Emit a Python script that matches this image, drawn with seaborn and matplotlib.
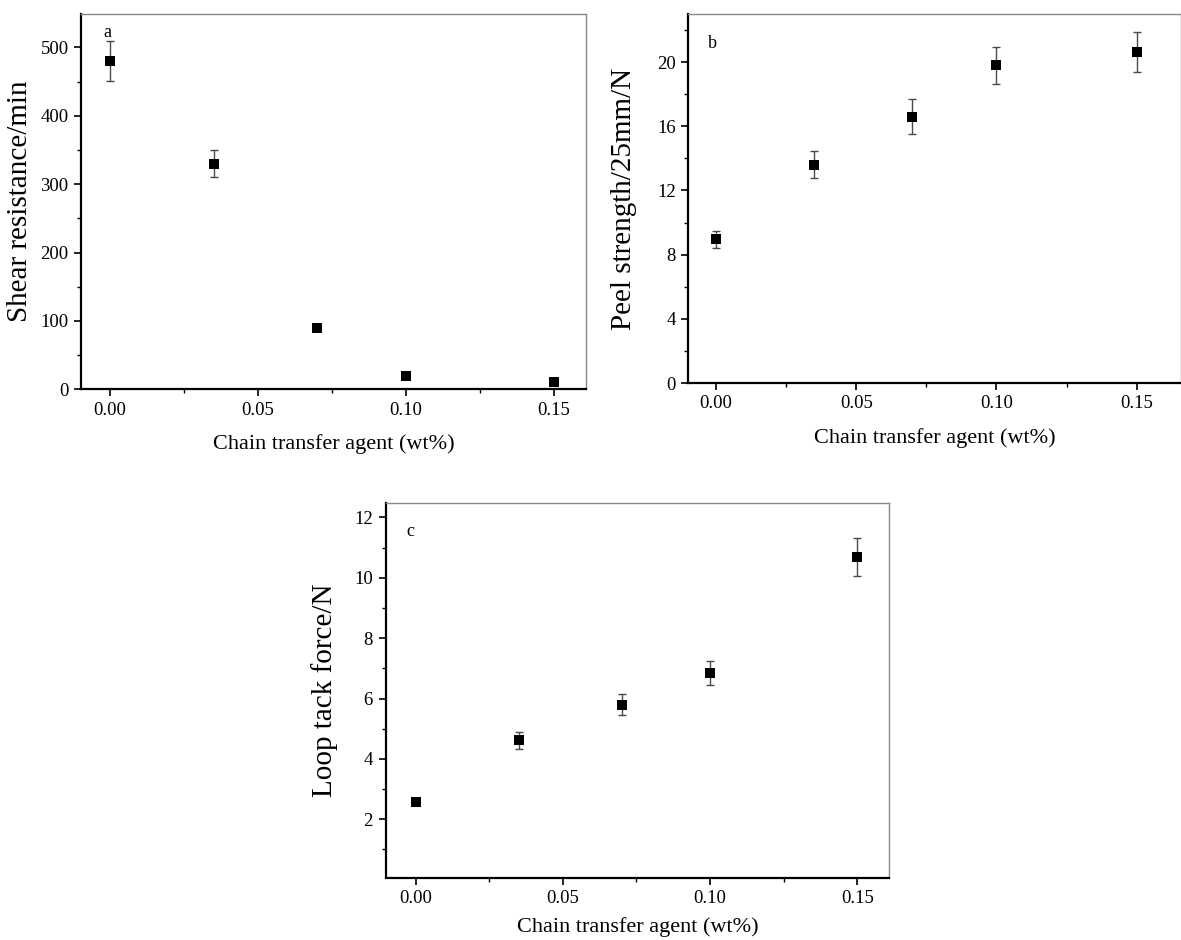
import numpy as np
import pandas as pd
import matplotlib
matplotlib.use("Agg")
import matplotlib.pyplot as plt
import seaborn as sns
from matplotlib.ticker import MultipleLocator, FormatStrFormatter

# ---- data ----
cta = [0.0, 0.035, 0.07, 0.10, 0.15]
shear = [480, 330, 90, 20, 10]
shear_err = [29, 20, 3, 2, 1]
peel = [8.95, 13.6, 16.6, 19.8, 20.65]
peel_err = [0.55, 0.85, 1.08, 1.15, 1.25]
loop = [2.58, 4.62, 5.80, 6.85, 10.69]
loop_err = [0.12, 0.28, 0.35, 0.41, 0.64]

xlabel = "Chain transfer agent (wt%)"
ylabels = ["Shear resistance/min", "Peel strength/25mm/N", "Loop tack force/N"]
panel_tags = ["a", "b", "c"]

sns.set_style("ticks")
plt.rcParams["font.family"] = ["Liberation Serif", "DejaVu Serif"]
plt.rcParams["text.color"] = "black"
plt.rcParams["axes.labelcolor"] = "black"
plt.rcParams["xtick.color"] = "black"
plt.rcParams["ytick.color"] = "black"

W, H = 1181, 940
fig = plt.figure(figsize=(W / 100, H / 100), dpi=100)

def px_axes(l, r, b, t):
    return fig.add_axes([l / W, 1 - b / H, (r - l) / W, (b - t) / H])

ax_a = px_axes(81, 585.7, 389.3, 14)
ax_b = px_axes(688.3, 1181, 383, 14)
ax_c = px_axes(385.5, 889.3, 877.5, 502.7)

specs = [
    (ax_a, shear, shear_err, (-0.0098, 0.1607), (0, 549), 100, 50, (61, 55), (107.7, 32.3)),
    (ax_b, peel, peel_err, (-0.0099, 0.1658), (0, 23.0), 4, 2, (64, 55), (712.5, 43)),
    (ax_c, loop, loop_err, (-0.0102, 0.1609), (0.07, 12.49), 2, 1, (61, 50), (410, 532)),
]

for i, (ax, yv, ye, xl, yl, maj, mnr, lab_off, tagpos) in enumerate(specs):
    df = pd.DataFrame({"x": cta, "y": yv, "err": ye})
    ax.errorbar(df["x"], df["y"], yerr=df["err"], fmt="none", ecolor="#4a4a4a",
                elinewidth=1.0, capsize=3, capthick=1.0, zorder=2)
    sns.scatterplot(data=df, x="x", y="y", ax=ax, marker="s", s=55, color="black",
                    edgecolor="black", linewidth=0, zorder=3)
    ax.set_xlim(*xl)
    ax.set_ylim(*yl)
    ax.xaxis.set_major_locator(MultipleLocator(0.05))
    ax.xaxis.set_minor_locator(MultipleLocator(0.025))
    ax.xaxis.set_major_formatter(FormatStrFormatter("%.2f"))
    ax.yaxis.set_major_locator(MultipleLocator(maj))
    ax.yaxis.set_minor_locator(MultipleLocator(mnr))
    ax.yaxis.set_major_formatter(FormatStrFormatter("%d"))
    ax.tick_params(axis="both", which="major", direction="out", length=5, width=1.2,
                   labelsize=13.5, colors="black", pad=4)
    ax.tick_params(axis="both", which="minor", direction="out", length=3, width=1.0)
    ax.tick_params(top=False, right=False, which="both")
    for s in ["left", "bottom"]:
        ax.spines[s].set_color("black")
        ax.spines[s].set_linewidth(1.6)
    for s in ["top", "right"]:
        ax.spines[s].set_visible(True)
        ax.spines[s].set_color("#888888")
        ax.spines[s].set_linewidth(1.0)
    bbox = ax.get_position()
    wpx, hpx = bbox.width * W, bbox.height * H
    ax.set_xlabel(xlabel, fontsize=16, va="center")
    ax.xaxis.set_label_coords(0.5, -lab_off[1] / hpx)
    ax.set_ylabel(ylabels[i], fontsize=21, va="center")
    ax.yaxis.set_label_coords(-lab_off[0] / wpx, 0.5)
    fig.text(tagpos[0] / W, 1 - tagpos[1] / H, panel_tags[i], fontsize=13,
             ha="center", va="center")

fig.savefig("out.png", dpi=100)
